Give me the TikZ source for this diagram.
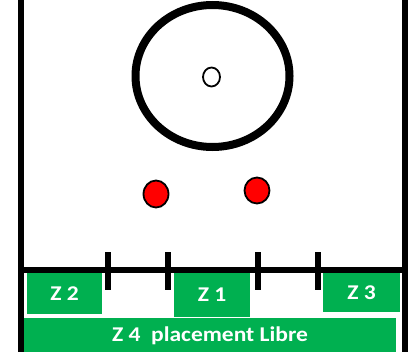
\documentclass[tikz,border=0pt]{standalone}
\usepackage{fontspec}
\newfontfamily\zfont{Carlito}
\definecolor{zgreen}{HTML}{00B050}
\newcommand{\ztext}[1]{\scalebox{1.12}[1]{\zfont\bfseries\fontsize{21}{22}\selectfont #1}}
\begin{document}
\begin{tikzpicture}[x=1pt,y=-1pt,
  wall/.style={line width=6pt},
  tick/.style={line width=6.5pt},
  zone/.style={fill=zgreen,draw=none,text=white,inner sep=0pt},
  ball/.style={draw=black,line width=1.8pt,fill=red}]
\useasboundingbox (0,0) rectangle (411,351);
\fill[white] (0,0) rectangle (411,351);
% walls
\draw[wall] (21,-5) -- (21,356);
\draw[wall] (405,-5) -- (405,356);
\draw[wall] (21,270) -- (405,270);
% ticks
\foreach \x in {108,168,258,318} \draw[tick] (\x,252) -- (\x,290);
% target
\draw[line width=8pt] (212.5,76) ellipse [x radius=77, y radius=71];
\draw[line width=1.8pt] (211.5,77) ellipse [x radius=8.5, y radius=9.5];
% red balls
\draw[ball] (156,194) ellipse [x radius=12.5, y radius=13.5];
\draw[ball] (257,190.5) ellipse [x radius=12.5, y radius=13];
% zones
\node[zone,minimum width=75pt,minimum height=41pt] (z2) at (64.5,293.5) {\ztext{Z 2}};
\node[zone,minimum width=76pt,minimum height=44pt] (z1) at (212,295) {\ztext{Z 1}};
\node[zone,minimum width=77pt,minimum height=39pt] (z3) at (361.5,292.5) {\ztext{Z 3}};
\node[zone,minimum width=372pt,minimum height=35pt] (z4) at (210,335.5) {\ztext{Z 4\ \ placement Libre}};
\end{tikzpicture}
\end{document}
